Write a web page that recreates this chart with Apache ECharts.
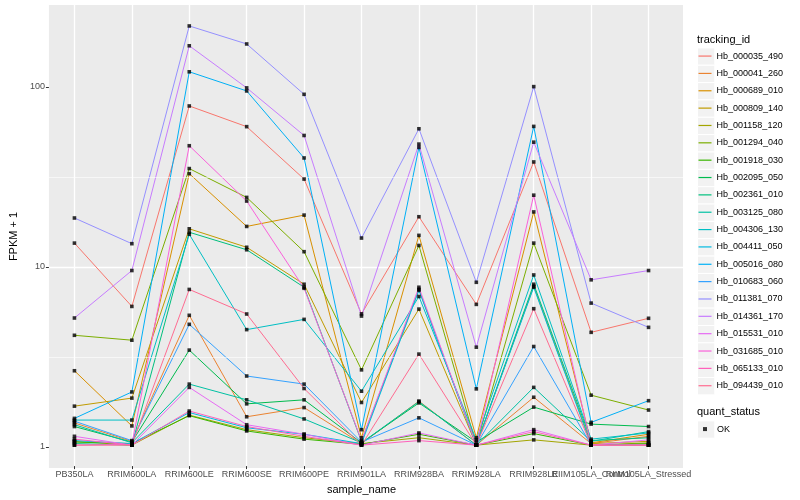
<!DOCTYPE html>
<html><head><meta charset="utf-8">
<script src="https://cdn.jsdelivr.net/npm/echarts@6/dist/echarts.min.js"></script>
<style>html,body{margin:0;padding:0;background:#fff}#c{width:800px;height:500px}</style>
</head><body><div id="c"></div>
<script>
const categories = ["PB350LA","RRIM600LA","RRIM600LE","RRIM600SE","RRIM600PE","RRIM901LA","RRIM928BA","RRIM928LA","RRIM928LE","RIIM105LA_Control","RIIM105LA_Stressed"];
const trackingIds = ["Hb_000035_490","Hb_000041_260","Hb_000689_010","Hb_000809_140","Hb_001158_120","Hb_001294_040","Hb_001918_030","Hb_002095_050","Hb_002361_010","Hb_003125_080","Hb_004306_130","Hb_004411_050","Hb_005016_080","Hb_010683_060","Hb_011381_070","Hb_014361_170","Hb_015531_010","Hb_031685_010","Hb_065133_010","Hb_094439_010"];
const colors = ["#F8766D","#EA8331","#D89000","#C09B00","#A3A500","#7CAE00","#39B600","#00BB4E","#00BF7D","#00C1A3","#00BFC4","#00BAE0","#00B0F6","#35A2FF","#9590FF","#C77CFF","#E76BF3","#FA62DB","#FF62BC","#FF6C91"];

// FPKM + 1 per sample (order of categories)
const hb_000035_490 = [13.4, 5.94, 78, 59.8, 30.5, 5.4, 18.8, 6.1, 38, 4.26, 5.1];
const hb_000041_260 = [1.33, 1.05, 5.3, 1.44, 1.62, 1.02, 1.76, 1.0, 1.85, 1.02, 1.12];
const hb_000689_010 = [2.6, 1.28, 32.7, 16.6, 19.2, 1.1, 14.8, 1.1, 20, 1.03, 1.15];
const hb_000809_140 = [1.65, 1.83, 16.1, 12.7, 7.9, 1.73, 5.74, 1.0, 7.7, 1.02, 1.05];
const hb_001158_120 = [1.05, 1.0, 1.47, 1.22, 1.1, 1.02, 1.1, 1.0, 1.07, 1.0, 1.03];
const hb_001294_040 = [4.1, 3.85, 34.9, 24.1, 12.0, 2.63, 13.0, 1.0, 13.4, 1.9, 1.57];
const hb_001918_030 = [1.04, 1.02, 1.46, 1.2, 1.08, 1.01, 1.15, 1.0, 1.16, 1.0, 1.02];
const hb_002095_050 = [1.27, 1.04, 3.39, 1.7, 1.79, 1.03, 1.72, 1.04, 1.63, 1.31, 1.27];
const hb_002361_010 = [1.02, 1.0, 15.4, 12.3, 7.6, 1.05, 7.4, 1.0, 7.9, 1.06, 1.1];
const hb_003125_080 = [1.3, 1.03, 2.19, 1.79, 1.4, 1.03, 1.75, 1.0, 2.1, 1.05, 1.19];
const hb_004306_130 = [1.38, 1.38, 15.0, 4.41, 5.03, 2.0, 6.75, 1.07, 8.9, 1.08, 1.17];
const hb_004411_050 = [1.06, 1.02, 1.52, 1.25, 1.15, 1.02, 7.3, 1.0, 7.6, 1.0, 1.0];
const hb_005016_080 = [1.41, 1.98, 121, 94.6, 40, 1.22, 45.8, 2.06, 60, 1.34, 1.77];
const hb_010683_060 = [1.36, 1.06, 4.72, 2.43, 2.19, 1.04, 1.42, 1.0, 3.55, 1.0, 1.0];
const hb_011381_070 = [18.5, 13.3, 218, 173, 90.6, 14.3, 58.2, 8.1, 100, 6.2, 4.54];
const hb_014361_170 = [5.12, 9.42, 169, 98.4, 53.4, 5.25, 47.8, 3.52, 49, 8.36, 9.42];
const hb_015531_010 = [1.12, 1.0, 2.1, 1.3, 1.15, 1.0, 1.17, 1.0, 1.22, 1.0, 1.07];
const hb_031685_010 = [1.0, 1.01, 46.8, 23.0, 7.5, 1.06, 7.6, 1.0, 24.8, 1.0, 1.0];
const hb_065133_010 = [1.08, 1.0, 1.55, 1.27, 1.12, 1.0, 1.06, 1.0, 1.19, 1.0, 1.0];
const hb_094439_010 = [1.0, 1.0, 7.39, 5.39, 2.07, 1.0, 3.22, 1.0, 5.77, 1.0, 1.0];

const seriesValues = [hb_000035_490, hb_000041_260, hb_000689_010, hb_000809_140, hb_001158_120, hb_001294_040, hb_001918_030, hb_002095_050, hb_002361_010, hb_003125_080, hb_004306_130, hb_004411_050, hb_005016_080, hb_010683_060, hb_011381_070, hb_014361_170, hb_015531_010, hb_031685_010, hb_065133_010, hb_094439_010];

const yTickValues = [1, 10, 100];
const yMinorBreaks = [3.1623, 31.623];
const quantStatus = ["OK"];

// layout (ggplot-like panel)
const FONT = '"Liberation Sans", Arial, Helvetica, sans-serif';
const panel = {left: 40, top: 5, width: 643, height: 463};
const catExpand = 0.6;
const unit = panel.width / (categories.length - 1 + 2 * catExpand);
const dataGrid = {left: panel.left + catExpand * unit, top: panel.top, width: (categories.length - 1) * unit, height: panel.height};

// y range: log10 extent of data expanded 5%
const allVals = [].concat(...seriesValues);
const lo = Math.log10(Math.min(...allVals)), hi = Math.log10(Math.max(...allVals));
const pad = (hi - lo) * 0.05;
const yMin = Math.pow(10, lo - pad), yMax = Math.pow(10, hi + pad);

const lineSeries = trackingIds.map((id, i) => ({
  name: id, type: 'line', xAxisIndex: 1, yAxisIndex: 1,
  data: seriesValues[i], showSymbol: false, symbol: 'none', clip: false, z: 3,
  lineStyle: {color: colors[i], width: 1}, itemStyle: {color: colors[i]},
  emphasis: {disabled: true}, silent: true, animation: false
}));

const pointData = [];
seriesValues.forEach(vals => vals.forEach((v, j) => pointData.push([categories[j], v])));

const pointSeries = {
  name: quantStatus[0], type: 'scatter', xAxisIndex: 1, yAxisIndex: 1,
  data: pointData, symbol: 'rect', symbolSize: 3.6, z: 5, clip: false,
  itemStyle: {color: '#000'}, emphasis: {disabled: true}, silent: true, animation: false
};

const minorSeries = {
  name: 'minor', type: 'line', xAxisIndex: 0, yAxisIndex: 0, data: [], z: 1, silent: true,
  markLine: {silent: true, symbol: ['none', 'none'], label: {show: false}, animation: false,
    lineStyle: {color: '#ffffff', width: 0.6, type: 'solid'},
    data: yMinorBreaks.map(v => ({yAxis: v}))}
};

// legend key backgrounds
const keyStep = 17.35, keyTop = 47.4, keySize = 17.3;
const keyRects = trackingIds.map((id, i) => ({
  type: 'rect', left: 697, top: keyTop + i * keyStep, silent: true, z: -1,
  shape: {width: keySize, height: keySize}, style: {fill: '#F2F2F2', stroke: '#ffffff', lineWidth: 1}
}));
keyRects.push({type: 'rect', left: 697, top: 420.4, silent: true, z: -1,
  shape: {width: keySize, height: keySize}, style: {fill: '#F2F2F2', stroke: '#ffffff', lineWidth: 1}});

const chart = echarts.init(document.getElementById('c'), null, {renderer: 'canvas'});
chart.setOption({
  animation: false,
  backgroundColor: '#ffffff',
  textStyle: {fontFamily: FONT},
  title: [
    {text: 'tracking_id', left: 697, top: 34, padding: 0, textStyle: {fontSize: 11, fontWeight: 'normal', color: '#000', fontFamily: FONT}},
    {text: 'quant_status', left: 697, top: 406, padding: 0, textStyle: {fontSize: 11, fontWeight: 'normal', color: '#000', fontFamily: FONT}}
  ],
  graphic: keyRects,
  grid: [
    {left: panel.left, top: panel.top, width: panel.width, height: panel.height, show: true, backgroundColor: '#EBEBEB', borderWidth: 0},
    {left: dataGrid.left, top: dataGrid.top, width: dataGrid.width, height: dataGrid.height, show: false}
  ],
  legend: [
    {orient: 'vertical', left: 698.5, top: keyTop, padding: 0, itemGap: 0, itemWidth: 13, itemHeight: 1.2, icon: 'rect',
      selectedMode: false, data: trackingIds,
      textStyle: {fontSize: 9, color: '#000', fontFamily: FONT, lineHeight: keyStep}},
    {orient: 'vertical', left: 703, top: 420.4, padding: 0, itemGap: 0, itemWidth: 4, itemHeight: 4, icon: 'rect',
      selectedMode: false, data: quantStatus,
      textStyle: {fontSize: 9, color: '#000', fontFamily: FONT, lineHeight: keyStep, padding: [0, 0, 0, 5]}}
  ],
  xAxis: [
    {gridIndex: 0, type: 'value', min: 0, max: 1, show: false},
    {gridIndex: 1, type: 'category', data: categories, boundaryGap: false,
      axisLine: {show: false},
      axisTick: {show: true, interval: 0, length: 3, lineStyle: {color: '#333333', width: 1}},
      axisLabel: {interval: 0, hideOverlap: false, color: '#4D4D4D', fontSize: 9, margin: 4, fontFamily: FONT},
      splitLine: {show: true, interval: 0, lineStyle: {color: '#ffffff', width: 1.3}},
      name: 'sample_name', nameLocation: 'middle', nameGap: 16,
      nameTextStyle: {color: '#000', fontSize: 11, fontFamily: FONT}}
  ],
  yAxis: [
    {gridIndex: 0, type: 'log', logBase: 10, min: yMin, max: yMax,
      axisLine: {show: false},
      axisTick: {show: true, length: 3, customValues: yTickValues, lineStyle: {color: '#333333', width: 1}},
      axisLabel: {color: '#4D4D4D', fontSize: 9, margin: 4, fontFamily: FONT, customValues: yTickValues,
        formatter: v => String(Math.round(v))},
      splitLine: {show: true, showMinLine: false, showMaxLine: false, lineStyle: {color: '#ffffff', width: 1.3}},
      name: 'FPKM + 1', nameLocation: 'middle', nameGap: 22,
      nameTextStyle: {color: '#000', fontSize: 11, fontFamily: FONT}},
    {gridIndex: 1, type: 'log', logBase: 10, min: yMin, max: yMax, show: false,
      splitLine: {show: false}}
  ],
  series: [minorSeries].concat(lineSeries, [pointSeries])
});
</script>
</body></html>
